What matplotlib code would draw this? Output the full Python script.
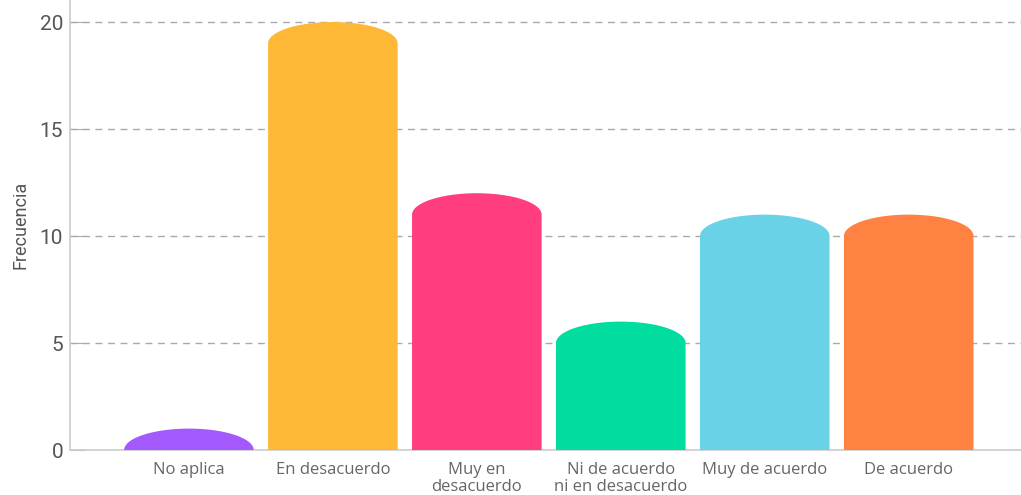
import numpy as np
import matplotlib.pyplot as plt
from matplotlib.patches import Polygon

categorias = ['No aplica', 'En desacuerdo', 'Muy en\ndesacuerdo',
              'Ni de acuerdo\nni en desacuerdo', 'Muy de acuerdo', 'De acuerdo']
frecuencias = [1, 20, 12, 6, 11, 11]
colores = ['#A459FF', '#FFB836', '#FF3D7F', '#00DD9F', '#69D2E6', '#FF8243']

fig = plt.figure(figsize=(10.21, 4.95), dpi=100)
ax = fig.add_axes([70 / 1021, 45 / 495, 1 - 70 / 1021, 450 / 495])

ancho = 0.9
tapa = 1.0  # altura de la tapa redondeada
t = np.linspace(0, np.pi, 60)
for i, (v, c) in enumerate(zip(frecuencias, colores)):
    h = min(tapa, v)
    base = v - h
    xs = i + (ancho / 2) * np.cos(t)
    ys = base + h * np.sin(t)
    verts = [(i + ancho / 2, 0)] + list(zip(xs, ys)) + [(i - ancho / 2, 0)]
    ax.add_patch(Polygon(verts, closed=True, facecolor=c, edgecolor='none', zorder=3))

ax.set_xlim(-0.826, 5.78)
ax.set_ylim(0, 21.03)
ax.set_yticks([0, 5, 10, 15, 20])
ax.set_xticks(range(len(categorias)))
ax.set_xticklabels(categorias, fontfamily='Open Sans', fontsize=12, color='#666666',
                   linespacing=1.02)
ax.tick_params(axis='x', length=0, pad=9)
ax.tick_params(axis='y', direction='in', length=11, color='#aaaaaa', pad=5,
               labelsize=15, labelcolor='#555555')
for lbl in ax.get_yticklabels():
    lbl.set_fontfamily('Roboto')

ax.set_ylabel('Frecuencia', fontfamily='Roboto', fontsize=13, color='#555555', labelpad=7)

ax.grid(axis='y', linestyle=(0, (5, 4)), color='#aaaaaa', linewidth=1, zorder=0)
ax.set_axisbelow(True)
for s in ['top', 'right']:
    ax.spines[s].set_visible(False)
for s in ['left', 'bottom']:
    ax.spines[s].set_color('#cccccc')
    ax.spines[s].set_linewidth(1.2)

fig.savefig('out.png', dpi=100)
